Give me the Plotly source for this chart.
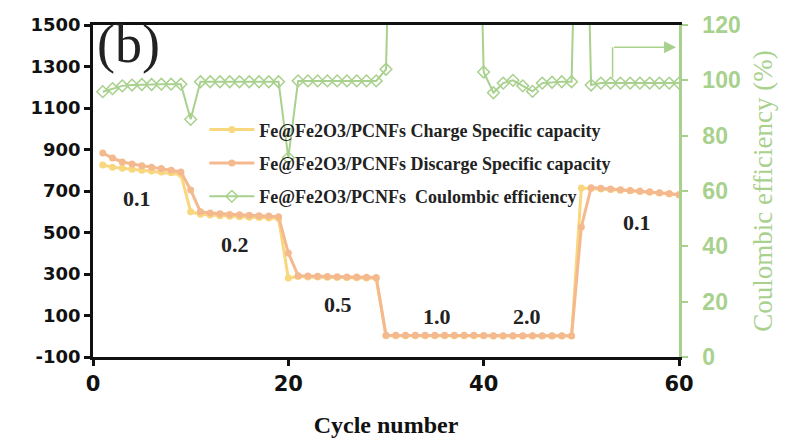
import plotly.graph_objects as go

cycles = list(range(1, 61))
charge = [825, 815, 810, 805, 800, 796, 792, 788, 780, 600,
          588, 584, 581, 578, 576, 574, 572, 570, 568, 281,
          288, 286, 285, 284, 283, 283, 282, 281, 280, 2,
          2, 2, 2, 2, 2, 2, 2, 2, 2, 2,
          1, 1, 1, 1, 1, 1, 1, 1, 1, 714,
          712, 710, 707, 704, 701, 698, 694, 690, 686, 682]
discharge = [883, 859, 840, 830, 822, 815, 808, 800, 792, 705,
             600, 594, 590, 587, 585, 583, 581, 579, 576, 401,
             292, 290, 289, 288, 287, 286, 285, 284, 283, 5,
             5, 5, 5, 5, 5, 5, 5, 5, 5, 4,
             3, 3, 3, 3, 3, 3, 3, 3, 3, 527,
             716, 713, 710, 706, 703, 700, 696, 692, 688, 682]
ce = [95.9, 97.0, 98.0, 98.3, 98.5, 98.5, 98.6, 98.6, 98.6, 85.9,
      99.5, 99.5, 99.5, 99.5, 99.5, 99.5, 99.5, 99.5, 99.5, 72.0,
      99.8, 99.8, 99.8, 99.8, 99.8, 99.8, 99.8, 99.8, 99.8, 104.0,
      250, 250, 250, 250, 250, 250, 250, 250, 250, 103.0,
      95.5, 99.0, 100.0, 98.0, 96.0, 99.0, 99.3, 99.5, 99.5, 250,
      98.3, 99.0, 99.0, 99.0, 99.0, 99.0, 99.0, 99.0, 99.0, 99.0]

names = ["Fe@Fe2O3/PCNFs Charge Specific capacity",
         "Fe@Fe2O3/PCNFs Discarge Specific capacity",
         "Fe@Fe2O3/PCNFs  Coulombic efficiency"]

rate_labels = ["0.1", "0.2", "0.5", "1.0", "2.0", "0.1"]
rate_x = [4.5, 14.5, 25.1, 35.2, 44.4, 55.7]
rate_y = [666, 440, 151, 93, 93, 546]

left_ticks = list(range(-100, 1501, 200))
left_ticktext = [str(v) for v in left_ticks]
right_ticks = list(range(0, 121, 20))

C_CH = "#F9D77E"
C_DIS = "#F4B98E"
C_CE = "#A9D18E"

fig = go.Figure()
fig.add_trace(go.Scatter(x=cycles, y=charge, name=names[0], mode="lines+markers",
                         line=dict(color=C_CH, width=3), marker=dict(size=7, color=C_CH),
                         legendgroup="a"))
fig.add_trace(go.Scatter(x=cycles, y=discharge, name=names[1], mode="lines+markers",
                         line=dict(color=C_DIS, width=3), marker=dict(size=7, color=C_DIS),
                         legendgroup="b"))
fig.add_trace(go.Scatter(x=cycles, y=ce, name=names[2], mode="lines+markers", yaxis="y2",
                         line=dict(color=C_CE, width=2),
                         marker=dict(size=9, symbol="diamond-open", color=C_CE, line=dict(width=1.5)),
                         legendgroup="c"))

for t, xx, yy in zip(rate_labels, rate_x, rate_y):
    fig.add_annotation(x=xx, y=yy, text="<b>" + t + "</b>", showarrow=False,
                       font=dict(family="Liberation Serif", size=22, color="#222"))

fig.add_annotation(x=0.2, y=1410, text="(b)", showarrow=False, xanchor="left",
                   font=dict(family="Liberation Serif", size=54, color="#222"))

# arrow pointing to right axis
fig.add_shape(type="line", xref="x", yref="y2", x0=53.2, x1=53.2, y0=101, y1=112,
              line=dict(color=C_CE, width=1.5))
fig.add_annotation(x=59.7, y=112, ax=53.2, ay=112, xref="x", yref="y2", axref="x", ayref="y2",
                   showarrow=True, arrowhead=2, arrowsize=1.6, arrowwidth=1.5, arrowcolor=C_CE, text="")

fig.update_layout(
    width=791, height=443,
    margin=dict(l=93, r=112, t=25, b=86),
    plot_bgcolor="white", paper_bgcolor="white",
    showlegend=True,
    legend=dict(x=0.19, y=0.74, xanchor="left", yanchor="top", bgcolor="rgba(0,0,0,0)",
                traceorder="grouped", tracegroupgap=7, itemwidth=45,
                font=dict(family="Liberation Serif", size=18, color="#222", weight="bold")),
    xaxis=dict(range=[0, 60], tickvals=[0, 20, 40, 60], showgrid=False, zeroline=False,
               showline=True, linecolor="#111", linewidth=2.5, mirror=True, automargin=False,
               ticks="outside", ticklen=6, tickwidth=2.5, tickcolor="#111",
               tickfont=dict(family="DejaVu Sans", size=21, color="#111", weight="bold"),
               title=dict(text="<b>Cycle number</b>", standoff=22,
                          font=dict(family="Liberation Serif", size=24, color="#111"))),
    yaxis=dict(range=[-100, 1500], tickvals=left_ticks, ticktext=left_ticktext, showgrid=False,
               zeroline=False, showline=True, linecolor="#111", linewidth=2.5, automargin=False,
               ticks="outside", ticklen=6, tickwidth=2.5, tickcolor="#111",
               tickfont=dict(family="DejaVu Sans", size=18, color="#111", weight="bold")),
    yaxis2=dict(range=[0, 120], tickvals=right_ticks, overlaying="y", side="right",
                showgrid=False, zeroline=False, showline=True, linecolor=C_CE, linewidth=2.5,
                automargin=False,
                ticks="outside", ticklen=6, tickwidth=2, tickcolor=C_CE, ticklabelstandoff=10,
                tickfont=dict(family="Liberation Sans", size=23, color=C_CE, weight="bold"),
                title=dict(text="Coulombic efficiency (%)", standoff=14,
                           font=dict(family="Liberation Serif", size=27, color=C_CE))),
)

fig.write_html("out.html")
